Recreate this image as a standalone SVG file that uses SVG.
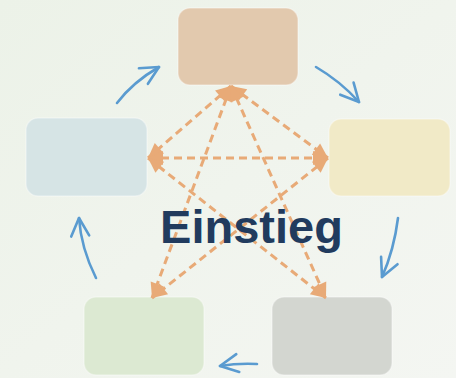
<svg xmlns="http://www.w3.org/2000/svg" width="456" height="378" viewBox="0 0 456 378">
  <defs>
    <linearGradient id="bg" x1="0" y1="0" x2="1" y2="1">
      <stop offset="0" stop-color="#ECF2E8"/>
      <stop offset="1" stop-color="#F4F6F2"/>
    </linearGradient>
    <marker id="dh" markerUnits="userSpaceOnUse" markerWidth="20" markerHeight="20" refX="0" refY="0" orient="auto-start-reverse" overflow="visible" viewBox="-20 -10 20 20">
      <path d="M-15,-7 L0,0 L-15,7 Z" fill="#E8AA77"/>
    </marker>
    <marker id="bh" markerUnits="userSpaceOnUse" markerWidth="24" markerHeight="24" refX="0" refY="0" orient="auto" overflow="visible" viewBox="-24 -12 24 24">
      <path d="M-18,-9 L0,0 L-18,9" fill="none" stroke="#5A9BD0" stroke-width="2.6" stroke-linecap="round" stroke-linejoin="round"/>
    </marker>
  </defs>
  <style>
    .node { stroke: #FFFFFF; stroke-opacity: 0.35; stroke-width: 1.5; }
    .dash { fill: none; stroke: #E8AA77; stroke-width: 3; stroke-dasharray: 8 5; marker-start: url(#dh); marker-end: url(#dh); }
    .flow { fill: none; stroke: #5A9BD0; stroke-width: 2.6; stroke-linecap: round; marker-end: url(#bh); }
    .title { font-family: "Liberation Sans", Arial, sans-serif; font-weight: bold; font-size: 47px; fill: #213B5E; }
  </style>
  <rect x="0" y="0" width="456" height="378" fill="url(#bg)"/>

  <g id="node-top"><rect class="node" x="178" y="8" width="120" height="77" rx="12" fill="#E2C9AE"/></g>
  <g id="node-left"><rect class="node" x="26" y="118" width="121" height="78" rx="12" fill="#D6E4E5"/></g>
  <g id="node-right"><rect class="node" x="329" y="119" width="121" height="77" rx="12" fill="#F1EAC7"/></g>
  <g id="node-bottom-left"><rect class="node" x="84" y="297" width="120" height="78" rx="12" fill="#DCE9D2"/></g>
  <g id="node-bottom-right"><rect class="node" x="272" y="297" width="120" height="78" rx="12" fill="#D3D6D0"/></g>

  <g id="connectors">
    <line class="dash" x1="231" y1="86" x2="148" y2="158"/>
    <line class="dash" x1="231" y1="86" x2="328" y2="158"/>
    <line class="dash" x1="231" y1="86" x2="152" y2="298"/>
    <line class="dash" x1="231" y1="86" x2="326" y2="298"/>
    <line class="dash" x1="148" y1="158" x2="328" y2="158"/>
    <line class="dash" x1="148" y1="158" x2="326" y2="298"/>
    <line class="dash" x1="328" y1="158" x2="152" y2="298"/>

    <path class="flow" d="M117,103 Q133,82 159,67"/>
    <path class="flow" d="M316,67 Q340,81 359,102"/>
    <path class="flow" d="M398,218 Q394,250 382,277"/>
    <path class="flow" d="M257,364 Q238,363 220,366"/>
    <path class="flow" d="M96,278 Q81,248 79,218"/>
  </g>

  <g id="title"><text class="title" x="251.5" y="243" text-anchor="middle">Einstieg</text></g>
</svg>
